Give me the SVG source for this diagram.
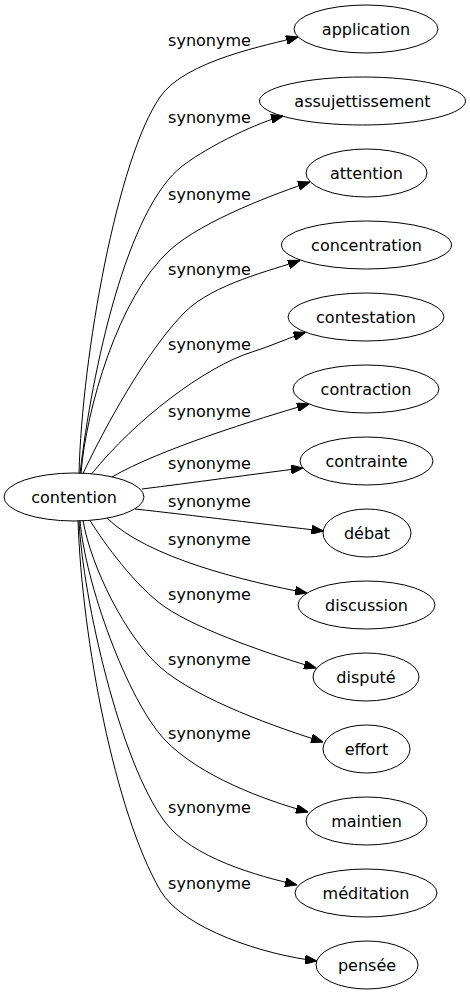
<svg xmlns="http://www.w3.org/2000/svg" width="470" height="995" viewBox="0 0 470 995">
<style>
.n ellipse{fill:none;stroke:#000;stroke-width:1}
.n text,.lbl{font-family:"DejaVu Sans","Liberation Sans",sans-serif;font-size:16px;fill:#000}
.n text{text-anchor:middle}
.lbl{text-anchor:middle}
.e path{fill:none;stroke:#000;stroke-width:1;marker-end:url(#ah)}
</style>
<defs>
<marker id="ah" viewBox="0 0 12 9" refX="12" refY="4.5" markerWidth="12" markerHeight="9" markerUnits="userSpaceOnUse" orient="auto">
<path d="M0,0 L12,4.5 L0,9 z" fill="#000" stroke="#000" stroke-width="1"/>
</marker>
</defs>
<rect width="470" height="995" fill="#fff"/>
<g id="edges" class="e">
<path d="M79,473.5 C82,355 117.5,158.7 160,97 C185.5,60 269,45 298,37"/>
<path d="M80,473.5 C92,370 127,207.5 183,165.5 C211,144.5 259,122 283,116"/>
<path d="M81,473.5 C86,410 118,297 170,250 C203,220 280,192 310,182"/>
<path d="M83,473.5 C103,431 146,351 185,312 C213,284 272.5,270 300,260.5"/>
<path d="M92,473.5 C135,420 204.5,367 252,352 C270,346.5 288,338 305.5,332.5"/>
<path d="M112,477 C158,450 258.5,418.5 309,404"/>
<path d="M142,489 C190,483 255,474 303,468"/>
<path d="M135,509 C190,515 270,525 323.5,531"/>
<path d="M107,518 C147,558 248,582 307,593"/>
<path d="M90,520.5 C104,543 136,587 165,607 C198,630 277.6,657 316,668"/>
<path d="M83,520.5 C91,567 126,637 160,667 C197.5,700 280,728.5 323,742"/>
<path d="M80,520.5 C85,582 127,700 165,740 C199.5,776 264,800 308,812"/>
<path d="M79,520.5 C83,600 120,762 165,822 C192,858 258,876 297,885"/>
<path d="M78,520.5 C82,640 115,812 160,890 C182.5,929 265,955 317,961"/>
</g>
<g id="labels">
<text class="lbl" x="209.5" y="46">synonyme</text>
<text class="lbl" x="209.5" y="123">synonyme</text>
<text class="lbl" x="209.5" y="200">synonyme</text>
<text class="lbl" x="209.5" y="275">synonyme</text>
<text class="lbl" x="209.5" y="350">synonyme</text>
<text class="lbl" x="209.5" y="417">synonyme</text>
<text class="lbl" x="209.5" y="469">synonyme</text>
<text class="lbl" x="209.5" y="507">synonyme</text>
<text class="lbl" x="209.5" y="545">synonyme</text>
<text class="lbl" x="209.5" y="600">synonyme</text>
<text class="lbl" x="209.5" y="665">synonyme</text>
<text class="lbl" x="209.5" y="739">synonyme</text>
<text class="lbl" x="209.5" y="813">synonyme</text>
<text class="lbl" x="209.5" y="889">synonyme</text>
</g>
<g id="contention" class="n"><ellipse cx="74" cy="497" rx="70" ry="24"/><text x="74" y="502.5">contention</text></g>
<g id="application" class="n"><ellipse cx="366" cy="29" rx="72" ry="24"/><text x="366" y="34.5">application</text></g>
<g id="assujettissement" class="n"><ellipse cx="362.5" cy="101" rx="103" ry="24"/><text x="362.5" y="106.5">assujettissement</text></g>
<g id="attention" class="n"><ellipse cx="366.5" cy="173" rx="60.5" ry="24"/><text x="366.5" y="178.5">attention</text></g>
<g id="concentration" class="n"><ellipse cx="366.5" cy="245" rx="85" ry="24"/><text x="366.5" y="250.5">concentration</text></g>
<g id="contestation" class="n"><ellipse cx="366" cy="317" rx="78" ry="24"/><text x="366" y="322.5">contestation</text></g>
<g id="contraction" class="n"><ellipse cx="366" cy="389" rx="73" ry="24"/><text x="366" y="394.5">contraction</text></g>
<g id="contrainte" class="n"><ellipse cx="366.5" cy="461" rx="66.5" ry="24"/><text x="366.5" y="466.5">contrainte</text></g>
<g id="debat" class="n"><ellipse cx="367" cy="533" rx="44" ry="24"/><text x="367" y="538.5">débat</text></g>
<g id="discussion" class="n"><ellipse cx="366.5" cy="605" rx="68.5" ry="24"/><text x="366.5" y="610.5">discussion</text></g>
<g id="dispute" class="n"><ellipse cx="366" cy="677" rx="53" ry="24"/><text x="366" y="682.5">disputé</text></g>
<g id="effort" class="n"><ellipse cx="366.5" cy="749" rx="43.5" ry="24"/><text x="366.5" y="754.5">effort</text></g>
<g id="maintien" class="n"><ellipse cx="366.5" cy="821" rx="60.5" ry="24"/><text x="366.5" y="826.5">maintien</text></g>
<g id="meditation" class="n"><ellipse cx="366" cy="893" rx="71" ry="24"/><text x="366" y="898.5">méditation</text></g>
<g id="pensee" class="n"><ellipse cx="367" cy="965" rx="51" ry="24"/><text x="367" y="970.5">pensée</text></g>
</svg>
